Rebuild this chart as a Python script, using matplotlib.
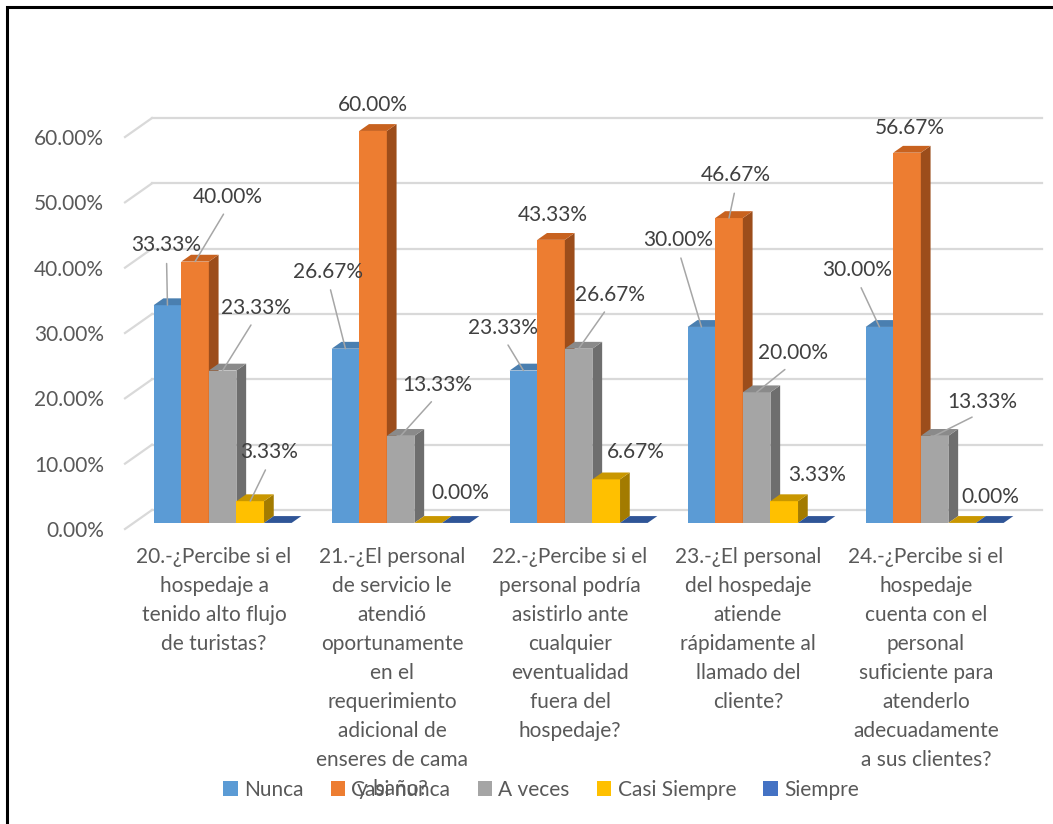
import matplotlib
matplotlib.use("Agg")
from matplotlib import pyplot as plt
from matplotlib.patches import Polygon, Patch, Rectangle

plt.rcParams['font.family'] = ['Lato', 'DejaVu Sans']

# datos (porcentajes)
preguntas = [
    "20.-¿Percibe si el\nhospedaje a\ntenido alto flujo\nde turistas?",
    "21.-¿El personal\nde servicio le\natendió\noportunamente\nen el\nrequerimiento\nadicional de\nenseres de cama\ny baño?",
    "22.-¿Percibe si el\npersonal podría\nasistirlo ante\ncualquier\neventualidad\nfuera del\nhospedaje?",
    "23.-¿El personal\ndel hospedaje\natiende\nrápidamente al\nllamado del\ncliente?",
    "24.-¿Percibe si el\nhospedaje\ncuenta con el\npersonal\nsuficiente para\natenderlo\nadecuadamente\na sus clientes?",
]
series = ['Nunca', 'Casi nunca', 'A veces', 'Casi Siempre', 'Siempre']
nunca = [33.33, 26.67, 23.33, 30.00, 30.00]
casi_nunca = [40.00, 60.00, 43.33, 46.67, 56.67]
a_veces = [23.33, 13.33, 26.67, 20.00, 13.33]
casi_siempre = [3.33, 0.00, 6.67, 3.33, 0.00]
siempre = [0.00, 0.00, 0.00, 0.00, 0.00]
valores = [nunca, casi_nunca, a_veces, casi_siempre, siempre]
yticks = [0, 10, 20, 30, 40, 50, 60]

# colores: frente, tapa, lado
c_frente = ['#5B9BD5', '#ED7D31', '#A5A5A5', '#FFC000', '#4472C4']
c_tapa = ['#4A7FB0', '#C8621F', '#8A8A8A', '#C99700', '#2F5597']
c_lado = ['#3F6E9A', '#9C4D1B', '#6E6E6E', '#A37B00', '#2A4A85']

# posicion de las etiquetas (pixeles respecto a la tapa de la barra) y linea guia
etq_off = [
    [(-1, 60), (-17, 77), (-20, 43), (-23, 87), (-22, 57)],
    [(33, 65), (0, 26), (2, 25), (7, 43), (3, 25)],
    [(33, 63), (37, 51), (31, 54), (36, 39), (48, 34)],
    [(19, 49), (32, 30), (30, 27), (33, 26), (28, 26)],
]
guia = [
    [True, True, True, True, True],
    [True, False, False, True, False],
    [True, True, True, True, True],
    [True, False, False, False, False],
]

W, H = 1053, 824
fig = plt.figure(figsize=(W / 100, H / 100), dpi=100)
ax = fig.add_axes([125 / W, (H - 529) / H, 890 / W, 457.3 / H])
ax.set_xlim(-0.5, 4.5)
ax.set_ylim(0, 70)
for s in ax.spines.values():
    s.set_visible(False)

# profundidad del piso en unidades de datos
DX = 27 / 178.0
DY = 19 / 6.533
zf, zb = 0.32, 0.68
ancho = 0.155
grid_c = '#D9D9D9'

# pared del fondo y lateral
for v in yticks:
    ax.plot([-0.5 + DX, 4.5 + DX], [v + DY, v + DY], color=grid_c, lw=1.6, clip_on=False, zorder=1)
    ax.plot([-0.5, -0.5 + DX], [v, v + DY], color=grid_c, lw=1.6, clip_on=False, zorder=1)

n = len(series)
for i in range(len(preguntas)):
    izq = i - n * ancho / 2
    for j in range(n):
        v = valores[j][i]
        x0 = izq + j * ancho + zf * DX
        x1 = x0 + ancho
        y0 = zf * DY
        y1 = v + zf * DY
        ddx = (zb - zf) * DX
        ddy = (zb - zf) * DY
        if v > 0:
            ax.add_patch(Polygon([(x0, y0), (x1, y0), (x1, y1), (x0, y1)],
                                 closed=True, fc=c_frente[j], ec='none', zorder=3))
            ax.add_patch(Polygon([(x1, y0), (x1 + ddx, y0 + ddy), (x1 + ddx, y1 + ddy), (x1, y1)],
                                 closed=True, fc=c_lado[j], ec='none', zorder=3))
        ax.add_patch(Polygon([(x0, y1), (x1, y1), (x1 + ddx, y1 + ddy), (x0 + ddx, y1 + ddy)],
                             closed=True, fc=c_tapa[j], ec='none', zorder=3))
        if j < 4:
            ox, oy = etq_off[j][i]
            arrow = None
            if guia[j][i]:
                arrow = dict(arrowstyle='-', color='#A6A6A6', lw=1.1,
                             relpos=(0.5, 0.0), shrinkA=4, shrinkB=0)
            ax.annotate('%.2f%%' % v, xy=((x0 + x1) / 2, y1), xytext=(ox, oy),
                        textcoords='offset pixels', ha='center', va='center',
                        fontsize=15, color='#404040', arrowprops=arrow,
                        annotation_clip=False, zorder=5)

ax.set_yticks(yticks)
ax.set_yticklabels(['%.2f%%' % t for t in yticks])
ax.set_xticks(range(len(preguntas)))
ax.set_xticklabels(preguntas, linespacing=1.56)
ax.tick_params(axis='y', length=0, pad=15, labelsize=15, labelcolor='#595959')
ax.tick_params(axis='x', length=0, pad=13, labelsize=15, labelcolor='#595959')

handles = [Patch(facecolor=c_frente[k], label=series[k]) for k in range(n)]
fig.legend(handles=handles, loc='center', bbox_to_anchor=(541 / W, (H - 790) / H), ncol=5,
           frameon=False, fontsize=15, labelcolor='#595959', handlelength=0.7,
           handleheight=0.7, handletextpad=0.3, columnspacing=1.3)

# marco
fig.add_artist(Rectangle((7 / W, -0.05), 1.1, (H - 7) / H + 0.05, transform=fig.transFigure,
                         fill=False, ec='black', lw=2.2, clip_on=False))

fig.savefig('out.png', dpi=100)
